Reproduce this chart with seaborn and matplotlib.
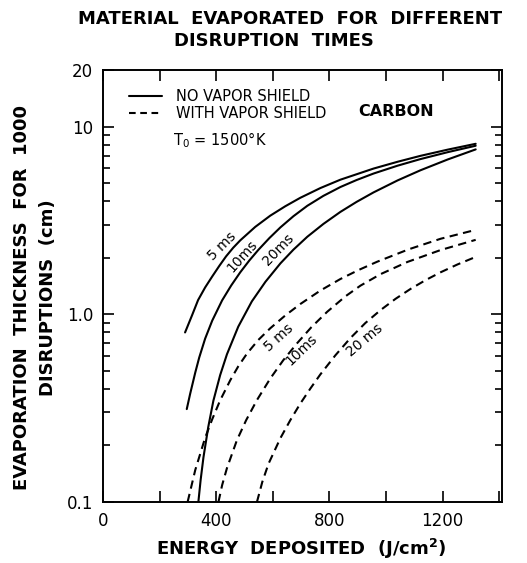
import matplotlib
matplotlib.use("Agg")
import matplotlib.pyplot as plt
import seaborn as sns
import pandas as pd
from matplotlib.lines import Line2D
from matplotlib.ticker import LogLocator, NullFormatter, FixedLocator, FixedFormatter

# ---- data (energy J/cm^2, thickness cm) ----
solid_5ms_energy = [290, 315, 336, 361, 386, 411, 435, 460, 485, 538, 591, 644, 697,
                    768, 839, 956, 1041, 1122, 1218, 1317]
solid_5ms_thick = [0.80, 0.99, 1.19, 1.39, 1.59, 1.81, 2.035, 2.26, 2.475, 2.92, 3.35,
                   3.76, 4.17, 4.70, 5.21, 5.97, 6.49, 6.98, 7.53, 8.09]

solid_10ms_energy = [296, 308, 326, 340, 361, 386, 421, 453, 485, 517, 549, 588, 627,
                     673, 722, 779, 839, 896, 956, 1041, 1122, 1218, 1317]
solid_10ms_thick = [0.3125, 0.377, 0.489, 0.588, 0.742, 0.925, 1.186, 1.423, 1.673,
                    1.933, 2.203, 2.546, 2.903, 3.329, 3.782, 4.274, 4.762, 5.187,
                    5.617, 6.186, 6.708, 7.30, 7.90]

solid_20ms_energy = [337, 345, 355, 372, 390, 414, 438, 478, 526, 574, 627, 673, 722,
                     779, 839, 896, 956, 1041, 1122, 1218, 1317]
solid_20ms_thick = [0.100, 0.131, 0.173, 0.251, 0.346, 0.474, 0.612, 0.859, 1.171,
                    1.489, 1.867, 2.209, 2.587, 3.029, 3.51, 3.967, 4.457, 5.163,
                    5.848, 6.674, 7.553]

dashed_5ms_energy = [299, 326, 361, 386, 414, 450, 478, 509, 549, 591, 644, 697, 768,
                     839, 903, 969, 1080, 1193, 1317]
dashed_5ms_thick = [0.100, 0.148, 0.220, 0.276, 0.348, 0.446, 0.528, 0.618, 0.730,
                    0.842, 0.985, 1.133, 1.337, 1.541, 1.72, 1.905, 2.217, 2.524, 2.815]

dashed_10ms_energy = [408, 421, 438, 473, 506, 544, 591, 637, 686, 736, 792, 857, 910,
                      981, 1076, 1193, 1317]
dashed_10ms_thick = [0.100, 0.123, 0.1515, 0.213, 0.273, 0.349, 0.4545, 0.569, 0.701,
                     0.852, 1.030, 1.247, 1.421, 1.636, 1.90, 2.198, 2.491]

dashed_20ms_energy = [544, 563, 585, 627, 662, 697, 733, 768, 821, 874, 927, 981, 1034,
                      1087, 1140, 1193, 1253, 1317]
dashed_20ms_thick = [0.100, 0.128, 0.160, 0.219, 0.273, 0.334, 0.4025, 0.478, 0.604,
                     0.746, 0.898, 1.053, 1.209, 1.365, 1.520, 1.673, 1.843, 2.02]

shield_labels = ["NO VAPOR SHIELD", "WITH VAPOR SHIELD"]
x_tick_values = [0, 200, 400, 600, 800, 1000, 1200, 1400]
x_tick_labels = ["0", "", "400", "", "800", "", "1200", ""]
y_tick_values = [0.1, 1, 10, 20]
y_tick_labels = ["0.1", "1.0", "10", "20"]

curves = [
    ("solid 5", shield_labels[0], solid_5ms_energy, solid_5ms_thick),
    ("solid 10", shield_labels[0], solid_10ms_energy, solid_10ms_thick),
    ("solid 20", shield_labels[0], solid_20ms_energy, solid_20ms_thick),
    ("dashed 5", shield_labels[1], dashed_5ms_energy, dashed_5ms_thick),
    ("dashed 10", shield_labels[1], dashed_10ms_energy, dashed_10ms_thick),
    ("dashed 20", shield_labels[1], dashed_20ms_energy, dashed_20ms_thick),
]
rows = []
for name, shield, xs, ys in curves:
    for x, y in zip(xs, ys):
        rows.append({"curve": name, "shield": shield, "energy": x, "thick": y})
df = pd.DataFrame(rows)

sns.set_style("ticks")
plt.rcParams["font.family"] = ["DejaVu Sans"]
for key in ["text.color", "axes.labelcolor", "xtick.color", "ytick.color", "axes.edgecolor"]:
    plt.rcParams[key] = "black"

fig = plt.figure(figsize=(5.27, 5.63), dpi=100)
ax = fig.add_axes([103 / 527, 1 - 502 / 563, 399 / 527, 432 / 563])

dash_map = {shield_labels[0]: "", shield_labels[1]: (4, 2.6)}
sns.lineplot(data=df, x="energy", y="thick", units="curve", estimator=None,
             style="shield", dashes=dash_map, color="black", linewidth=1.5,
             sort=False, legend=False, ax=ax)

ax.set_yscale("log")
ax.set_xlim(0, 1410)
ax.set_ylim(0.1, 20)

ax.xaxis.set_major_locator(FixedLocator(x_tick_values))
ax.xaxis.set_major_formatter(FixedFormatter(x_tick_labels))
ax.yaxis.set_major_locator(FixedLocator(y_tick_values))
ax.yaxis.set_major_formatter(FixedFormatter(y_tick_labels))
ax.yaxis.set_minor_locator(LogLocator(base=10, subs=[2, 3, 4, 5, 6, 7, 8, 9]))
ax.yaxis.set_minor_formatter(NullFormatter())

ax.tick_params(which="both", direction="in", top=True, right=True, color="black",
               width=1.2)
ax.tick_params(which="major", length=8, labelsize=12, pad=7)
ax.tick_params(which="minor", length=5)
for s in ax.spines.values():
    s.set_linewidth(1.4)
    s.set_color("black")

ax.set_xlabel("")
ax.set_ylabel("")

# legend
handles = [Line2D([0], [0], color="black", lw=1.5),
           Line2D([0], [0], color="black", lw=1.5, dashes=(3.2, 2.2))]
ax.legend(handles, shield_labels, loc="upper left", bbox_to_anchor=(0.065, 0.955),
          frameon=False, fontsize=10.5, handlelength=2.3, handletextpad=0.9,
          labelspacing=0.1, borderpad=0, borderaxespad=0)

ax.text(0.735, 0.903, "CARBON", transform=ax.transAxes, ha="center", va="center",
        fontsize=11.5, fontweight="bold")
ax.text(0.175, 0.838, r"T$_\mathregular{0}$ = 1500°K", transform=ax.transAxes,
        ha="left", va="center", fontsize=10.5)

# curve labels (text, energy, thickness, rotation)
curve_labels = [
    ("5 ms", 422, 2.30, 45), ("10ms", 492, 2.03, 48), ("20ms", 619, 2.22, 46),
    ("5 ms", 623, 0.746, 42), ("10ms", 701, 0.643, 44), ("20 ms", 924, 0.727, 40),
]
for txt, x, y, rot in curve_labels:
    ax.text(x, y, txt, ha="center", va="center", rotation=rot, fontsize=10,
            rotation_mode="anchor")

# titles and axis labels
fig.text(290 / 527, 1 - 18.5 / 563, "MATERIAL  EVAPORATED  FOR  DIFFERENT",
         ha="center", va="center", fontsize=13, fontweight="bold")
fig.text(274 / 527, 1 - 41 / 563, "DISRUPTION  TIMES",
         ha="center", va="center", fontsize=13, fontweight="bold")
fig.text(301 / 527, 1 - 549 / 563, "ENERGY  DEPOSITED  (J/cm$^\\mathregular{2}$)",
         ha="center", va="center", fontsize=13, fontweight="bold")
fig.text(22 / 527, 1 - 298 / 563, "EVAPORATION  THICKNESS  FOR  1000",
         ha="center", va="center", rotation=90, fontsize=13, fontweight="bold")
fig.text(48 / 527, 1 - 298 / 563, "DISRUPTIONS  (cm)",
         ha="center", va="center", rotation=90, fontsize=13, fontweight="bold")

fig.savefig("out.png", dpi=100)
